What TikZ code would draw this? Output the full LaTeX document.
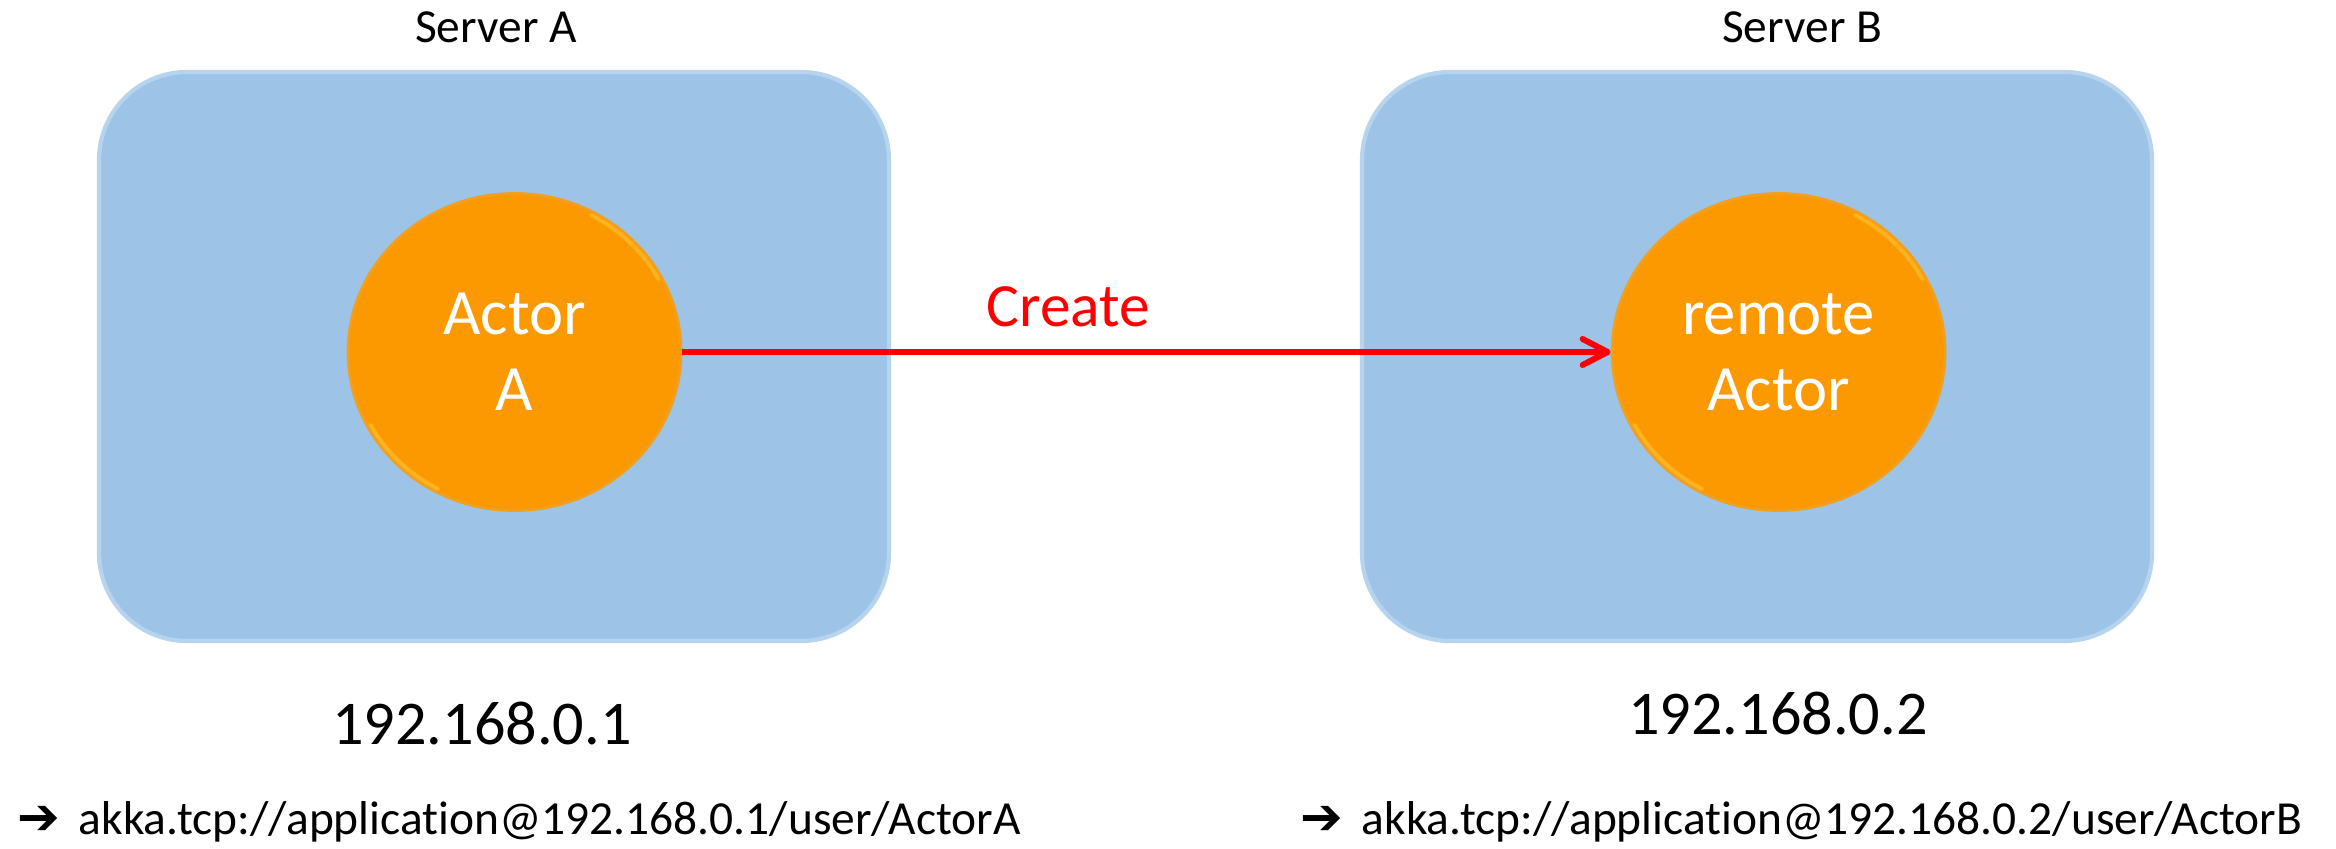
\documentclass[tikz,border=0pt]{standalone}
\usepackage{fontspec}
\setmainfont{Carlito}[Ligatures=CommonOff]
\newfontfamily\symfont{DejaVu Sans}
\usetikzlibrary{arrows.meta,positioning,calc,shapes.geometric}

\definecolor{serverfill}{RGB}{157,195,230}
\definecolor{serveredge}{RGB}{182,212,238}
\definecolor{actorfill}{RGB}{252,153,0}
\definecolor{actoredge}{RGB}{240,160,30}
\definecolor{actorshine}{RGB}{255,196,50}
\definecolor{createred}{RGB}{255,0,0}

\begin{document}
\begin{tikzpicture}[
  >=latex, line width=0.4pt,
  server/.style={rounded corners=0.88cm, fill=serverfill, draw=serveredge,
                 line width=1.2pt, minimum width=7.9cm, minimum height=5.69cm},
  actor/.style={ellipse, fill=actorfill, draw=actoredge, line width=0.8pt,
                minimum width=3.33cm, minimum height=3.17cm, inner sep=0pt,
                align=center, text=white, font=\fontsize{18.4}{21.6}\selectfont},
  shine/.style={draw=actorshine, line width=1.1pt, line cap=round, opacity=0.6},
  srvlabel/.style={font=\fontsize{13.5}{16}\selectfont, inner sep=0pt},
  iplabel/.style={font=\fontsize{17.7}{21}\selectfont, inner sep=0pt},
  pathlabel/.style={font=\fontsize{13.5}{16}\selectfont, inner sep=0pt},
  arrlabel/.style={font=\fontsize{17.5}{21}\selectfont, text=createred, inner sep=0pt},
  createarr/.style={-{Straight Barb[round, length=0.25cm, width=0.26cm]},
                    line width=1.7pt, draw=createred}
]
  \useasboundingbox (0,0) rectangle (23.36,8.49);

  % servers
  \node[server] (boxA) at (4.94, 4.925) {};
  \node[server] (boxB) at (17.57, 4.925) {};
  \node[srvlabel, anchor=base] (lblA) at ([xshift=0.02cm, yshift=0.27cm]boxA.north) {Server A};
  \node[srvlabel, anchor=base] (lblB) at ([xshift=0.45cm, yshift=0.27cm]boxB.north) {Server B};

  % actors
  \node[actor] (actA) at (5.145, 4.97) {Actor\\A};
  \node[actor] (actB) at (17.785, 4.97) {remote\\Actor};

  % rim highlights
  \foreach \a in {actA, actB}{
    \draw[shine] ($(\a.center)+({1.63*cos(28)},{1.55*sin(28)})$)
         arc[start angle=28, end angle=62, x radius=1.63cm, y radius=1.55cm];
    \draw[shine] ($(\a.center)+({1.63*cos(208)},{1.55*sin(208)})$)
         arc[start angle=208, end angle=242, x radius=1.63cm, y radius=1.55cm];
  }

  \draw[createarr] (actA.east) -- (actB.west)
        node[arrlabel, pos=0.416, anchor=base, yshift=0.25cm] (create) {Create};

  % addresses
  \node[iplabel, anchor=base] (ipA) at ([xshift=-0.12cm, yshift=-1.01cm]boxA.south) {192.168.0.1};
  \node[iplabel, anchor=base] (ipB) at ([xshift=0.21cm, yshift=-0.91cm]boxB.south) {192.168.0.2};

  \node[pathlabel, anchor=base west] (pathA) at (0.17, 0.14)
       {\makebox[0.61cm][l]{\symfont\fontsize{14.5}{16}\selectfont ➔}akka.tcp://application@192.168.0.1/user/ActorA};
  \node[pathlabel, anchor=base west] (pathB) at (13.0, 0.14)
       {\makebox[0.61cm][l]{\symfont\fontsize{14.5}{16}\selectfont ➔}akka.tcp://application@192.168.0.2/user/ActorB};
\end{tikzpicture}
\end{document}
